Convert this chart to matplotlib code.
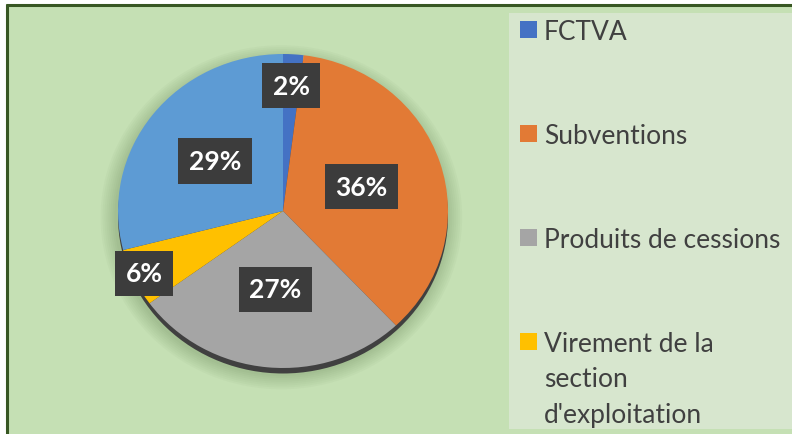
import matplotlib.pyplot as plt
import numpy as np
from matplotlib.patches import Ellipse, Rectangle

plt.rcParams["font.family"] = ["Lato", "DejaVu Sans"]

# slices, clockwise from 12 o'clock
categories = ["FCTVA", "Subventions", "Produits de cessions",
              "Virement de la\nsection\nd'exploitation", "Autres"]
shares = [2, 36, 27, 6, 29]
colors = ["#4472C4", "#E27A35", "#A5A5A5", "#FFC000", "#5D9BD4"]
legend_count = 4  # the fifth entry is cut off in the original
label_dist = [0.80, 0.50, 0.50, 0.93, 0.52]

W, H = 792, 435
fig = plt.figure(figsize=(W / 100, H / 100), dpi=100)
fig.patch.set_facecolor("white")

# background frame in pixel coordinates
bg = fig.add_axes([0, 0, 1, 1])
bg.set_xlim(0, W)
bg.set_ylim(H, 0)
bg.axis("off")
bg.add_patch(Rectangle((6, 5), W, H, facecolor="#C5E0B4", edgecolor="none"))
bg.plot([6.5, 6.5], [H, 5], color="#385723", lw=2.2, solid_capstyle="butt")
bg.plot([6, W], [5.5, 5.5], color="#385723", lw=2.2, solid_capstyle="butt")
bg.add_patch(Rectangle((509, 14), W - 509, 416, facecolor="#D7E6CE", edgecolor="none"))

# pie
cx, cy, rx, ry = 283, 212, 165, 157
ax = fig.add_axes([(cx - 1.25 * rx) / W, (H - cy - 1.25 * ry) / H, 2.5 * rx / W, 2.5 * ry / H])
ax.set_facecolor("none")
# soft drop shadow
for k in range(8):
    grow = 0.012 * (k + 1)
    ax.add_patch(Ellipse((-0.01, -0.04), 2.0 + 2 * grow, 2.0 + 2 * grow,
                         facecolor="#4d6b3c", edgecolor="none", alpha=0.035, zorder=0))
ax.add_patch(Ellipse((0, -0.035), 2.0, 2.0, facecolor="#404040", edgecolor="none", zorder=1))
wedges, _ = ax.pie(shares, colors=colors, startangle=90, counterclock=False,
                   radius=1, wedgeprops=dict(linewidth=0, zorder=2))
ax.set_xlim(-1.25, 1.25)
ax.set_ylim(-1.25, 1.25)
ax.set_aspect("auto")

for w, v, d in zip(wedges, shares, label_dist):
    mid = np.deg2rad((w.theta1 + w.theta2) / 2)
    ax.text(d * np.cos(mid), d * np.sin(mid), f"{v}%", ha="center", va="center",
            color="white", fontsize=19, fontweight="bold", zorder=5,
            bbox=dict(boxstyle="square,pad=0.4", facecolor="#3C3C3C", edgecolor="none"))

# legend
leg_y = [30, 134, 238, 342]
for name, col, y in zip(categories[:legend_count], colors[:legend_count], leg_y):
    bg.add_patch(Rectangle((520, y - 8.5), 17, 17, facecolor=col, edgecolor="none"))
    for i, line in enumerate(name.split("\n")):
        bg.text(544, y + i * 35.5, line, ha="left", va="center_baseline",
                fontsize=19, color="#404040")

fig.savefig("out.png", dpi=100)
